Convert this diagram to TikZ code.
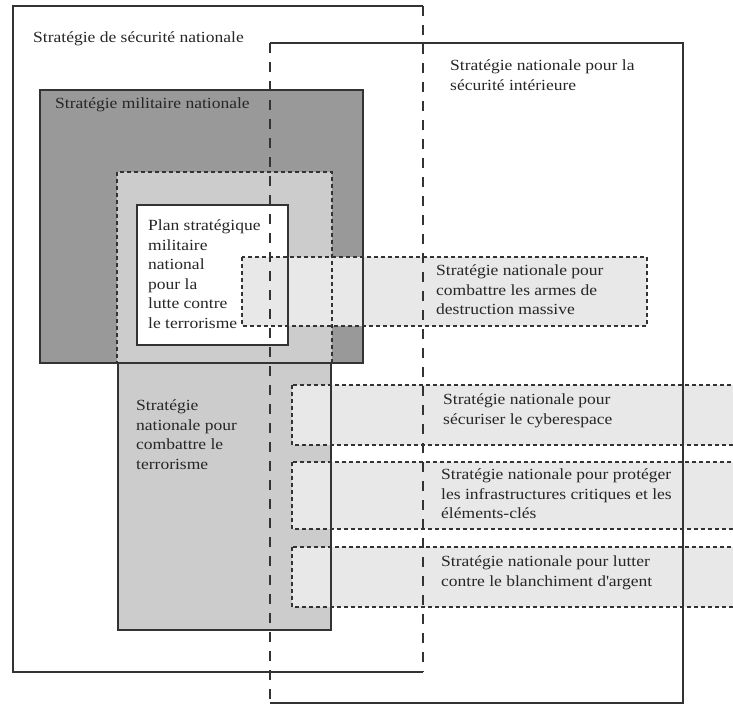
\documentclass[tikz,border=0pt]{standalone}
\usepackage{fontspec}
\setmainfont[FakeStretch=1.13]{Liberation Serif}

\begin{document}
\begin{tikzpicture}[x=1pt, y=-1pt,
    region/.style={anchor=north west, inner sep=0, outer sep=0},
    boxtext/.style={anchor=north west, inner sep=0, align=left,
        text=black!85, font=\fontsize{15.5}{19.5}\selectfont},
    outline/.style={draw=black!80, line width=1.3pt},
    longdash/.style={dash pattern=on 10pt off 9pt},
    shortdash/.style={dash pattern=on 4pt off 3pt}]
    \clip (0, 0) rectangle (733, 704);

    % the regions, filled first
    \node[region, minimum width=410, minimum height=666] (secnat) at (13, 6) {};
    \node[region, minimum width=413, minimum height=660] (interieure) at (270, 43) {};
    \node[region, fill=black!40, minimum width=323, minimum height=273] (militaire) at (40, 90) {};
    \node[region, fill=black!20, minimum width=213, minimum height=267] (terrorisme) at (118, 363) {};
    \node[region, fill=black!20, minimum width=215, minimum height=191] (antiterr) at (117, 172) {};
    \node[region, fill=white, minimum width=151, minimum height=140] (plan) at (137, 205) {};
    \node[region, fill=black!9, minimum width=405, minimum height=69] (armes) at (242, 257) {};
    \node[region, fill=black!9, minimum width=450, minimum height=60] (cyber) at (292, 385) {};
    \node[region, fill=black!9, minimum width=450, minimum height=67] (infra) at (292, 462) {};
    \node[region, fill=black!9, minimum width=450, minimum height=60] (blanchiment) at (292, 547) {};

    % the outlines on top
    \draw[outline, shortdash] (armes.north west) rectangle (armes.south east);
    \draw[outline, shortdash] (cyber.north west) rectangle (cyber.south east);
    \draw[outline, shortdash] (infra.north west) rectangle (infra.south east);
    \draw[outline, shortdash] (blanchiment.north west) rectangle (blanchiment.south east);
    \draw[outline] (militaire.north west) rectangle (militaire.south east);
    \draw[outline] (terrorisme.north west) rectangle (terrorisme.south east);
    \draw[outline, shortdash] (antiterr.north west) rectangle (antiterr.south east);
    \draw[outline] (plan.north west) rectangle (plan.south east);
    \draw[outline] (secnat.north east) -- (secnat.north west) -- (secnat.south west)
        -- (secnat.south east);
    \draw[outline, longdash] (secnat.north east) -- (secnat.south east);
    \draw[outline] (interieure.north west) -- (interieure.north east)
        -- (interieure.south east) -- (interieure.south west);
    \draw[outline, longdash] (interieure.north west) -- (interieure.south west);

    % the texts
    \node[boxtext] (secnat-txt) at (33, 32) {Stratégie de sécurité nationale};
    \node[boxtext] (interieure-txt) at (450, 60) {Stratégie nationale pour la\\
        sécurité intérieure};
    \node[boxtext] (militaire-txt) at (55, 98) {Stratégie militaire nationale};
    \node[boxtext] (plan-txt) at (148, 220) {Plan stratégique\\militaire\\national\\
        pour la\\lutte contre\\le terrorisme};
    \node[boxtext] (terrorisme-txt) at (136, 400) {Stratégie\\nationale pour\\
        combattre le\\terrorisme};
    \node[boxtext] (armes-txt) at (436, 265) {Stratégie nationale pour\\
        combattre les armes de\\destruction massive};
    \node[boxtext] (cyber-txt) at (443, 394) {Stratégie nationale pour\\
        sécuriser le cyberespace};
    \node[boxtext] (infra-txt) at (441, 469) {Stratégie nationale pour protéger\\
        les infrastructures critiques et les\\éléments-clés};
    \node[boxtext] (blanchiment-txt) at (441, 556) {Stratégie nationale pour lutter\\
        contre le blanchiment d\textquotesingle argent};
\end{tikzpicture}
\end{document}
